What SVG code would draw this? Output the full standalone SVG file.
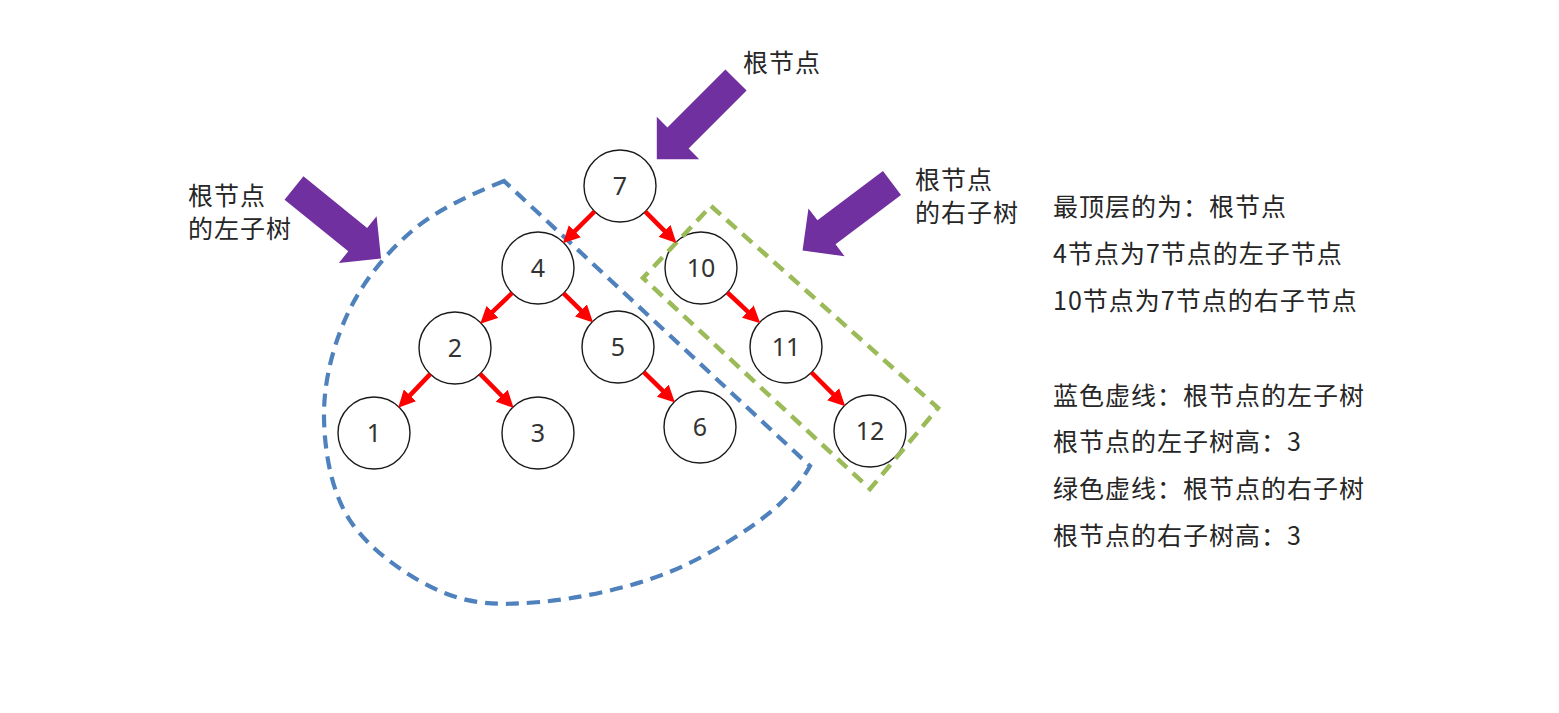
<svg xmlns="http://www.w3.org/2000/svg" width="1559" height="713" viewBox="0 0 1559 713">
  <style>
    .node circle { fill: #ffffff; stroke: #1a1a1a; stroke-width: 1.4; }
    .node text { font-family: "Noto Sans", "Open Sans", sans-serif; font-size: 25px; fill: #333333; text-anchor: middle; }
    .edge { stroke: #ff0000; stroke-width: 4.5; fill: none; marker-end: url(#ah); }
    .label { font-family: "Noto Sans CJK SC", "Noto Sans", sans-serif; font-size: 25px; letter-spacing: 1px; fill: #262626; }
    .bigarrow { fill: #7030a0; }
    .blue { fill: none; stroke: #4f81bd; stroke-width: 4.2; stroke-dasharray: 13 8; }
    .green { fill: none; stroke: #9bbb59; stroke-width: 4.5; stroke-dasharray: 13 8; }
  </style>
  <defs>
    <marker id="ah" markerUnits="userSpaceOnUse" markerWidth="17" markerHeight="17" viewBox="0 0 16 16" refX="1" refY="8" orient="auto">
      <path d="M0,0 L16,8 L0,16 z" fill="#ff0000"/>
    </marker>
    <path id="barrow" d="M0,-15 H82 V-30 L112,0 L82,30 V15 H0 Z"/>
  </defs>
  <rect width="1559" height="713" fill="#ffffff"/>

  <g id="node-7" class="node"><circle cx="620" cy="186" r="36"/><text x="620" y="195">7</text></g>
  <g id="node-4" class="node"><circle cx="538" cy="268" r="36"/><text x="538" y="277">4</text></g>
  <g id="node-10" class="node"><circle cx="701" cy="268" r="36"/><text x="701" y="277">10</text></g>
  <g id="node-2" class="node"><circle cx="455" cy="348" r="36"/><text x="455" y="357">2</text></g>
  <g id="node-5" class="node"><circle cx="618" cy="347" r="36"/><text x="618" y="356">5</text></g>
  <g id="node-11" class="node"><circle cx="786" cy="347" r="36"/><text x="786" y="356">11</text></g>
  <g id="node-1" class="node"><circle cx="374" cy="433" r="36"/><text x="374" y="442">1</text></g>
  <g id="node-3" class="node"><circle cx="538" cy="433" r="36"/><text x="538" y="442">3</text></g>
  <g id="node-6" class="node"><circle cx="700" cy="427" r="36"/><text x="700" y="436">6</text></g>
  <g id="node-12" class="node"><circle cx="870" cy="431" r="36"/><text x="870" y="440">12</text></g>

  <g id="left-subtree-outline">
    <path class="blue" d="M504,181 C472,194 438,209 412,231 C386,253 362.7,282 348,313 C333.3,344 323.5,382.2 324,417 C324.5,451.8 331.3,492.8 351,522 C370.7,551.2 410.5,578.7 442,592 C473.5,605.3 502.5,605.2 540,602 C577.5,598.8 628.2,588.3 667,573 C705.8,557.7 749.2,530 773,510 C790,495 802,481 810,466 Z"/>
  </g>
  <g id="right-subtree-outline">
    <polygon class="green" points="711,206 938,408 870,489 643,278"/>
  </g>

  <g id="connectors">
    <line class="edge" x1="594.5" y1="211.5" x2="574.1" y2="231.9"/>
    <line class="edge" x1="645.3" y1="211.6" x2="665.2" y2="231.7"/>
    <line class="edge" x1="512.1" y1="293.0" x2="491.7" y2="312.6"/>
    <line class="edge" x1="563.6" y1="293.3" x2="581.7" y2="311.2"/>
    <line class="edge" x1="430.2" y1="374.1" x2="409.2" y2="396.1"/>
    <line class="edge" x1="480.1" y1="373.8" x2="502.4" y2="396.5"/>
    <line class="edge" x1="643.8" y1="372.1" x2="663.5" y2="391.4"/>
    <line class="edge" x1="727.4" y1="292.5" x2="748.6" y2="312.3"/>
    <line class="edge" x1="811.5" y1="372.5" x2="833.9" y2="394.9"/>
  </g>

  <g id="pointer-root">
    <use href="#barrow" class="bigarrow" transform="translate(736,80) rotate(135)"/>
    <text class="label" x="743" y="72">根节点</text>
  </g>
  <g id="pointer-left">
    <use href="#barrow" class="bigarrow" transform="translate(294,188) rotate(39)"/>
    <text class="label" x="188" y="205">根节点</text>
    <text class="label" x="188" y="238">的左子树</text>
  </g>
  <g id="pointer-right">
    <use href="#barrow" class="bigarrow" transform="translate(892,183) rotate(143)"/>
    <text class="label" x="915" y="189">根节点</text>
    <text class="label" x="915" y="222">的右子树</text>
  </g>

  <g id="notes">
    <text class="label" x="1053" y="216">最顶层的为：根节点</text>
    <text class="label" x="1053" y="263">4节点为7节点的左子节点</text>
    <text class="label" x="1053" y="310">10节点为7节点的右子节点</text>
    <text class="label" x="1053" y="405">蓝色虚线：根节点的左子树</text>
    <text class="label" x="1053" y="451">根节点的左子树高：3</text>
    <text class="label" x="1053" y="498">绿色虚线：根节点的右子树</text>
    <text class="label" x="1053" y="545">根节点的右子树高：3</text>
  </g>
</svg>
